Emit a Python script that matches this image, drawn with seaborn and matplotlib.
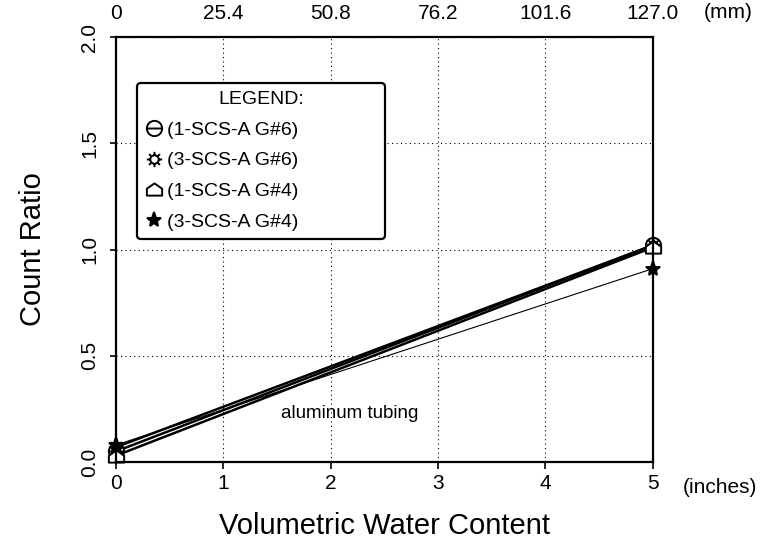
import numpy as np
import pandas as pd
import matplotlib.pyplot as plt
import seaborn as sns
from matplotlib.path import Path

# data
depth_in = [0, 5]
series_names = ["(1-SCS-A G#6)", "(3-SCS-A G#6)", "(1-SCS-A G#4)", "(3-SCS-A G#4)"]
ratio_1scs_g6 = [0.05, 1.02]
ratio_3scs_g6 = [0.07, 1.02]
ratio_1scs_g4 = [0.03, 1.01]
ratio_3scs_g4 = [0.08, 0.91]
mm_labels = ["0", "25.4", "50.8", "76.2", "101.6", "127.0"]

rows = []
for name, vals in zip(series_names, [ratio_1scs_g6, ratio_3scs_g6, ratio_1scs_g4, ratio_3scs_g4]):
    for x, y in zip(depth_in, vals):
        rows.append({"x": x, "y": y, "series": name})
df = pd.DataFrame(rows)

sns.set_style("white")
plt.rcParams["font.family"] = ["Liberation Sans", "DejaVu Sans"]
plt.rcParams.update({"text.color": "black", "axes.labelcolor": "black",
                     "xtick.color": "black", "ytick.color": "black"})

# marker shapes: circle with bar, sun, house, star
circ = Path.unit_circle()
circle_bar = Path.make_compound_path(circ, Path([(-1, 0), (1, 0)]))
ang = np.linspace(0, 2 * np.pi, 9)[:-1]
spokes = [Path([(0.55 * np.cos(a), 0.55 * np.sin(a)), (np.cos(a), np.sin(a))]) for a in ang]
small = Path(circ.vertices * 0.55, circ.codes)
sun = Path.make_compound_path(small, *spokes)
house = Path([(-1, -0.8), (1, -0.8), (1, 0.1), (0, 0.8), (-1, 0.1), (-1, -0.8)],
             [Path.MOVETO, Path.LINETO, Path.LINETO, Path.LINETO, Path.LINETO, Path.CLOSEPOLY])
markers = {series_names[0]: circle_bar, series_names[1]: sun,
           series_names[2]: house, series_names[3]: "*"}
widths = {series_names[0]: 1.8, series_names[1]: 1.8, series_names[2]: 1.8, series_names[3]: 0.8}
faces = {series_names[0]: "white", series_names[1]: "white",
         series_names[2]: "white", series_names[3]: "black"}

fig = plt.figure(figsize=(7.79, 5.49), dpi=100)
ax = fig.add_axes([0.149, 0.1585, 0.689, 0.774])

for name in series_names:
    sub = df[df["series"] == name]
    sns.lineplot(data=sub, x="x", y="y", ax=ax, color="black", linewidth=widths[name],
                 marker=markers[name], markersize=11, markerfacecolor=faces[name],
                 markeredgecolor="black", markeredgewidth=1.4, label=name)

ax.set_xlim(0, 5)
ax.set_ylim(0, 2.0)
ax.set_xticks(range(6))
ax.set_yticks([0, 0.5, 1.0, 1.5, 2.0])
ax.set_yticklabels(["0.0", "0.5", "1.0", "1.5", "2.0"], rotation=90, va="center")
ax.tick_params(axis="both", labelsize=15, direction="out", length=5, width=1.2,
               bottom=True, left=True)
ax.tick_params(axis="y", pad=8, length=4)
ax.grid(True, linestyle=(0, (1, 3)), color="black", linewidth=0.8)
for s in ax.spines.values():
    s.set_color("black")
    s.set_linewidth(1.6)
for ln in ax.lines:
    ln.set_clip_on(False)

ax.set_xlabel("Volumetric Water Content", fontsize=21, labelpad=14)
ax.set_ylabel("Count Ratio", fontsize=21, labelpad=24)

top = ax.secondary_xaxis("top")
top.set_xticks(range(6))
top.set_xticklabels(mm_labels)
top.tick_params(labelsize=15, length=0, pad=10, colors="black")
top.spines["top"].set_visible(False)

ax.text(1.055, -0.06, "(inches)", transform=ax.transAxes, fontsize=15, va="center")
ax.text(1.095, 1.057, "(mm)", transform=ax.transAxes, fontsize=15, va="center")
ax.text(2.18, 0.23, "aluminum tubing", fontsize=13.5, ha="center", va="center")

leg = ax.legend(loc="upper left", bbox_to_anchor=(0.039, 0.5, 0.462, 0.392), mode="expand",
                borderaxespad=0, title="LEGEND:", fontsize=14, title_fontsize=14,
                frameon=True, fancybox=True, edgecolor="black", framealpha=1,
                handlelength=0.9, handletextpad=0.25, labelspacing=0.68, borderpad=0.4)
leg.get_frame().set_linewidth(1.6)
for h in leg.legend_handles:
    h.set_linestyle("None")

fig.savefig("out.png", dpi=100)
